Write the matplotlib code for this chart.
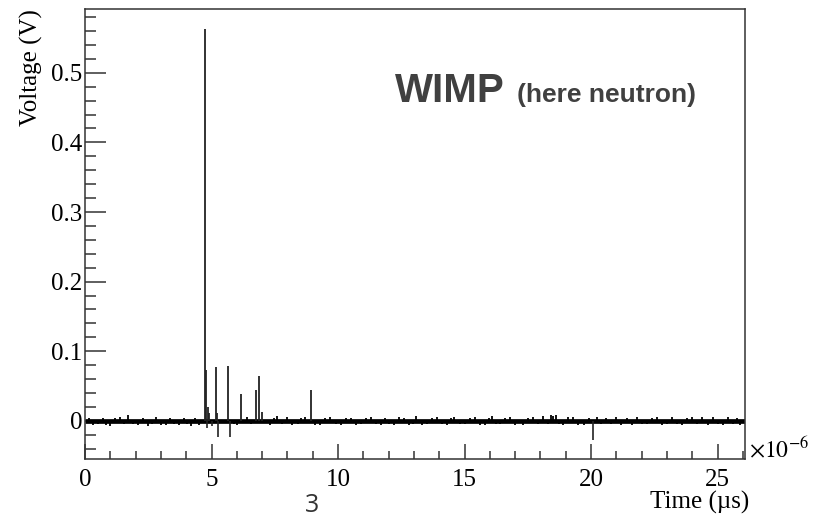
import matplotlib.pyplot as plt
from matplotlib.ticker import MultipleLocator

# pulse trace (time in us, voltage in V)
spike_t = [4.76, 4.80, 4.86, 4.92, 5.18, 5.22, 5.67, 6.18, 6.74, 6.88, 7.01, 8.95]
spike_v = [0.563, 0.073, 0.020, 0.012, 0.077, 0.012, 0.079, 0.038, 0.044, 0.064, 0.013, 0.044]

dip_t = [4.83, 5.00, 5.27, 5.75, 20.07]
dip_v = [-0.010, -0.008, -0.023, -0.023, -0.027]

# short baseline wiggles (upward and downward ticks)
noise_t = [0.15, 0.3, 0.5, 0.7, 0.85, 1.0, 1.2, 1.4, 1.55, 1.7, 1.9, 2.1, 2.3,
           2.5, 2.65, 2.8, 3.0, 3.2, 3.35, 3.5, 3.7, 3.9, 4.05, 4.2, 4.35, 4.5,
           5.9, 6.0, 6.4, 6.55, 7.3, 7.45, 7.6, 7.8, 8.0, 8.2, 8.4, 8.55, 8.7,
           9.1, 9.3, 9.5, 9.7, 9.9, 10.1, 10.3, 10.5, 10.7, 10.9, 11.1, 11.3,
           11.5, 11.7, 11.85, 12.0, 12.2, 12.4, 12.6, 12.8, 12.95, 13.1, 13.3,
           13.5, 13.7, 13.9, 14.1, 14.3, 14.45, 14.6, 14.8, 15.0, 15.2, 15.4,
           15.6, 15.8, 15.95, 16.1, 16.25, 16.4, 16.6, 16.8, 17.0, 17.3, 17.5,
           17.7, 17.9, 18.1, 18.3, 18.4, 18.5, 18.6, 18.75, 18.9, 19.1, 19.3,
           19.5, 19.7, 19.9, 20.25, 20.4, 20.6, 20.8, 21.0, 21.2, 21.4, 21.6,
           21.8, 22.0, 22.2, 22.4, 22.6, 22.8, 23.0, 23.2, 23.4, 23.6, 23.8,
           24.0, 24.2, 24.4, 24.6, 24.8, 25.0, 25.2, 25.4, 25.6, 25.75, 25.9]
noise_v = [0.004, -0.006, -0.005, 0.004, -0.006, -0.007, 0.004, 0.005, -0.005,
           0.008, -0.005, -0.006, 0.004, -0.007, -0.005, 0.005, -0.006, -0.006,
           0.004, -0.005, -0.006, 0.004, -0.005, -0.007, 0.004, -0.006,
           -0.005, -0.006, 0.006, -0.005, -0.006, 0.004, 0.007, -0.005, 0.006,
           -0.006, -0.005, 0.004, 0.005, -0.006, -0.006, 0.004, 0.005, -0.005,
           -0.006, 0.004, 0.004, -0.006, -0.005, 0.004, 0.006, -0.005, -0.006,
           0.004, -0.005, -0.006, 0.005, 0.004, -0.006, -0.005, 0.007, -0.006,
           -0.005, 0.004, 0.005, -0.005, -0.006, 0.004, 0.006, -0.005, -0.005,
           0.004, 0.005, -0.006, -0.006, 0.004, 0.007, -0.005, -0.005, 0.004,
           0.006, -0.006, -0.006, 0.004, 0.005, -0.005, 0.007, -0.005, 0.008,
           0.007, 0.008, -0.005, -0.006, 0.005, 0.005, -0.006, -0.006, 0.004,
           0.006, -0.005, 0.004, -0.005, 0.006, -0.006, 0.004, -0.006, 0.005,
           -0.005, -0.005, 0.004, 0.006, -0.006, -0.005, 0.005, -0.005, -0.006,
           0.004, 0.006, -0.005, 0.005, -0.006, 0.006, -0.005, -0.006, 0.005,
           -0.005, 0.004, -0.006]

plt.rcParams["mathtext.fontset"] = "stix"
serif = "Liberation Serif"

fig = plt.figure(figsize=(8.21, 5.23), dpi=100)
ax = fig.add_axes([0.1035, 0.122, 0.8045, 0.860])

# baseline band
ax.plot([0, 26.1], [0, 0], color="black", linewidth=3.4, solid_capstyle="butt")
ax.vlines(noise_t, 0, noise_v, color="black", linewidth=1.3)
ax.vlines(dip_t, 0, dip_v, color="#222222", linewidth=1.2)
ax.vlines(spike_t, 0, spike_v, color="#222222", linewidth=1.3)

ax.set_xlim(0, 26.1)
ax.set_ylim(-0.055, 0.591)

ax.xaxis.set_major_locator(MultipleLocator(5))
ax.xaxis.set_minor_locator(MultipleLocator(1))
ax.yaxis.set_major_locator(MultipleLocator(0.1))
ax.yaxis.set_minor_locator(MultipleLocator(0.02))
ax.yaxis.set_major_formatter(plt.FuncFormatter(lambda v, p: "0" if abs(v) < 1e-9 else f"{v:.1f}"))

ax.tick_params(axis="both", which="both", direction="in", top=False, right=False,
               color="#333333", width=1.1, labelsize=18)
ax.tick_params(axis="y", which="major", length=15, pad=2)
ax.tick_params(axis="y", which="minor", length=8)
ax.tick_params(axis="x", which="major", length=11, pad=7)
ax.tick_params(axis="x", which="minor", length=5.5)
for lab in ax.get_xticklabels() + ax.get_yticklabels():
    lab.set_fontfamily(serif)
for sp in ax.spines.values():
    sp.set_linewidth(1.1)
    sp.set_color("#333333")

ax.set_ylabel("Voltage (V)", fontsize=18, family=serif, loc="top", labelpad=6)
fig.text(0.912, 0.027, "Time (\u00b5s)", fontsize=18, family=serif, ha="right", va="baseline")
fig.text(0.912, 0.125, r"$\times10^{-6}$", fontsize=17, ha="left", va="baseline")

fig.text(0.481, 0.805, "WIMP", fontsize=29, fontweight="bold", family="Liberation Sans",
         color="#404040", ha="left", va="baseline")
fig.text(0.630, 0.805, "(here neutron)", fontsize=19, fontweight="bold", family="Liberation Sans",
         color="#404040", ha="left", va="baseline")
fig.text(0.380, 0.021, "3", fontsize=18, family="Open Sans", color="#333333",
         ha="center", va="baseline")

fig.savefig("out.png", dpi=100)
